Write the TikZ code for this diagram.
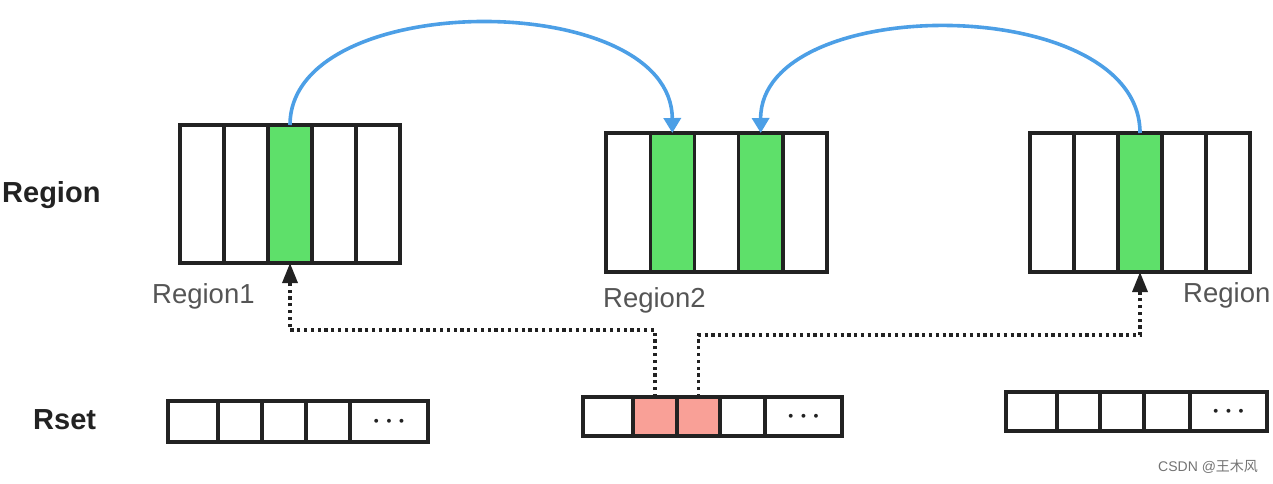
\documentclass[tikz,border=0pt]{standalone}
\usepackage{fontspec}
\setmainfont{Liberation Sans}
\newfontfamily\cjk{Noto Sans CJK SC}
\usetikzlibrary{arrows.meta}
\definecolor{ink}{HTML}{222222}
\definecolor{gfill}{HTML}{5EE06A}
\definecolor{pfill}{HTML}{F9A097}
\definecolor{bluearc}{HTML}{4C9FE6}
\definecolor{lbl}{HTML}{555555}
\begin{document}
\begin{tikzpicture}[x=1pt,y=-1pt,
  cell/.style={draw=ink, line width=3.4pt, inner sep=0pt, outer sep=0pt, anchor=north west},
  bigtext/.style={font=\fontsize{29}{32}\selectfont\bfseries, text=ink, anchor=west, inner sep=0pt},
  graytext/.style={font=\fontsize{27.5}{30}\selectfont, text=lbl, anchor=west, inner sep=0pt},
  dots/.style={font=\fontsize{26}{26}\selectfont\boldmath, text=ink},
  bluearrow/.style={draw=bluearc, line width=3.6pt, -{Triangle[length=15pt,width=17pt]}},
  dotarrow/.style={draw=ink, line width=3.4pt, dash pattern=on 3.2pt off 3.6pt, -{Triangle[length=20pt,width=15pt]}}
]
\useasboundingbox (0,0) rectangle (1273,483);
% Region boxes
\foreach \i/\f in {1/white,2/white,3/gfill,4/white,5/white}
  \node[cell, fill=\f, minimum width=44, minimum height=138] (ra\i) at ({180+44*(\i-1)},125) {};
\foreach \i/\f in {1/white,2/gfill,3/white,4/gfill,5/white}
  \node[cell, fill=\f, minimum width=44.2, minimum height=139] (rb\i) at ({606+44.2*(\i-1)},133) {};
\foreach \i/\f in {1/white,2/white,3/gfill,4/white,5/white}
  \node[cell, fill=\f, minimum width=44, minimum height=139] (rc\i) at ({1030+44*(\i-1)},133) {};
% Rsets
\foreach \i/\a/\b/\f in {1/168/218/white,2/218/262/white,3/262/306/white,4/306/350/white,5/350/428/white}
  \node[cell, fill=\f, minimum width={\b-\a}, minimum height=41] (sa\i) at (\a,401) {};
\foreach \i/\a/\b/\f in {1/583/633/white,2/633/677/pfill,3/677/720/pfill,4/720/765/white,5/765/842/white}
  \node[cell, fill=\f, minimum width={\b-\a}, minimum height=39] (sb\i) at (\a,397) {};
\foreach \i/\a/\b/\f in {1/1006/1057/white,2/1057/1100/white,3/1100/1144/white,4/1144/1190/white,5/1190/1267/white}
  \node[cell, fill=\f, minimum width={\b-\a}, minimum height=39] (sc\i) at (\a,392) {};
\node[dots] (da) at (sa5.center) {$\cdots$};
\node[dots] (db) at (sb5.center) {$\cdots$};
\node[dots] (dc) at (sc5.center) {$\cdots$};
% labels
\node[bigtext] (lregion) at (2,195) {Region};
\node[bigtext] (lrset) at (33,420) {Rset};
\node[graytext] (l1) at (152,296) {Region1};
\node[graytext] (l2) at (603,300) {Region2};
\node[graytext] (l3) at (1183,295) {Region};
\node[font=\fontsize{14}{16}\selectfont, text=black!55, anchor=west, inner sep=0pt] (wm) at (1158,467) {CSDN @{\cjk 王木风}};
% blue arcs
\draw[bluearrow] (ra3.north) .. controls (290,-12) and (672,-12) .. (rb2.north);
\draw[bluearrow] (rc3.north) .. controls (1140,-8) and (760,-8) .. (rb4.north);
% dotted arrows
\coordinate (k1) at (290,330);
\coordinate (k2) at (1140,335);
\draw[dotarrow] (sb2.north) |- (k1) -- (ra3.south);
\draw[dotarrow] (sb3.north) |- (k2) -- (rc3.south);
\end{tikzpicture}
\end{document}
